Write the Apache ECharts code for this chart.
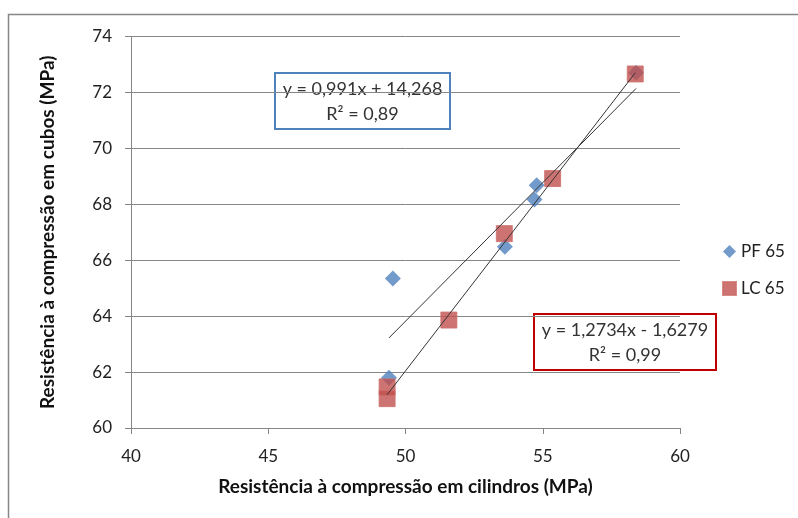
<!DOCTYPE html>
<html>
<head>
<meta charset="utf-8">
<script src="https://cdn.jsdelivr.net/npm/echarts@6/dist/echarts.min.js"></script>
<style>
    html, body { margin: 0; padding: 0; background: #fff; }
    #main { width: 798px; height: 518px; }
</style>
</head>
<body>
<div id="main"></div>
<script>
// PF 65 (x = cilindros, y = cubos)
var pfX = [49.54, 49.4, 53.62, 54.7, 54.78, 58.4];
var pfY = [65.35, 61.8, 66.48, 68.17, 68.68, 72.7];
// LC 65
var lcX = [49.33, 49.33, 51.58, 53.6, 55.36, 58.37];
var lcY = [61.47, 61.05, 63.86, 66.95, 68.92, 72.66];

var seriesNames = ['PF 65', 'LC 65'];
// linhas de tendência (valores da legenda do Excel)
var slopes = [0.991, 1.2734];
var intercepts = [14.268, -1.6279];
var r2 = [0.89, 0.99];

var xTicks = [40, 45, 50, 55, 60];
var yTicks = [60, 62, 64, 66, 68, 70, 72, 74];

var font = 'Lato, "Open Sans", sans-serif';

function pairs(xs, ys) {
    var out = [];
    for (var i = 0; i < xs.length; i++) {
        out.push([xs[i], ys[i]]);
    }
    return out;
}

// pontos extremos da reta de tendência no intervalo dos dados
function trend(xs, a, b) {
    var lo = Math.min.apply(null, xs);
    var hi = Math.max.apply(null, xs);
    return [[lo, a * lo + b], [hi, a * hi + b]];
}

function fmt(v) {
    return String(v).replace('.', ',');
}

function eqText(i) {
    var b = intercepts[i];
    var sign = b < 0 ? ' - ' : ' + ';
    return 'y = ' + fmt(slopes[i]) + 'x' + sign + fmt(Math.abs(b)) + '\nR² = ' + fmt(r2[i]);
}

var chart = echarts.init(document.getElementById('main'));

var option = {
    animation: false,
    textStyle: { fontFamily: font },
    grid: {
        left: 131,
        right: 118,
        top: 36.5,
        bottom: 90
    },
    legend: {
        orient: 'vertical',
        left: 717,
        top: 238,
        itemGap: 20,
        itemWidth: 13,
        itemHeight: 13,
        textStyle: { fontSize: 17, color: '#222', fontFamily: font },
        data: [
            { name: seriesNames[0], icon: 'diamond' },
            { name: seriesNames[1], icon: 'rect' }
        ]
    },
    xAxis: {
        type: 'value',
        min: xTicks[0],
        max: xTicks[xTicks.length - 1],
        interval: 5,
        name: 'Resistência à compressão em cilindros (MPa)',
        nameLocation: 'middle',
        nameGap: 49,
        nameTextStyle: { fontSize: 19, fontWeight: 'bold', color: '#111' },
        axisLine: { lineStyle: { color: '#868686' } },
        axisTick: { length: 6, lineStyle: { color: '#868686' } },
        axisLabel: { fontSize: 17, color: '#222', margin: 20 },
        splitLine: { show: false }
    },
    yAxis: {
        type: 'value',
        min: yTicks[0],
        max: yTicks[yTicks.length - 1],
        interval: 2,
        name: 'Resistência à compressão em cubos (MPa)',
        nameLocation: 'middle',
        nameGap: 74,
        nameTextStyle: { fontSize: 19, fontWeight: 'bold', color: '#111' },
        axisLine: { show: true, lineStyle: { color: '#868686' } },
        axisTick: { show: true, length: 6, lineStyle: { color: '#868686' } },
        axisLabel: { fontSize: 17, color: '#222', margin: 19 },
        splitLine: { lineStyle: { color: '#868686', width: 1 } }
    },
    series: [{
            name: seriesNames[0],
            type: 'scatter',
            symbol: 'diamond',
            symbolSize: 16,
            itemStyle: { color: '#4F81BD' },
            data: pairs(pfX, pfY),
            z: 2
        },
        {
            name: seriesNames[1],
            type: 'scatter',
            symbol: 'rect',
            symbolSize: 16,
            itemStyle: { color: '#C0504D', borderColor: '#CD6E6B', borderWidth: 1 },
            data: pairs(lcX, lcY),
            z: 3
        },
        {
            name: 'tend PF',
            type: 'line',
            symbol: 'none',
            silent: true,
            lineStyle: { color: '#333', width: 1 },
            data: trend(pfX, slopes[0], intercepts[0]),
            z: 4
        },
        {
            name: 'tend LC',
            type: 'line',
            symbol: 'none',
            silent: true,
            lineStyle: { color: '#333', width: 1 },
            data: trend(lcX, slopes[1], intercepts[1]),
            z: 4
        }
    ],
    graphic: [{
            // moldura do gráfico
            type: 'rect',
            shape: { x: 8.5, y: 14.5, width: 900, height: 600 },
            style: { fill: 'none', stroke: '#868686', lineWidth: 1.5 },
            silent: true
        },
        {
            type: 'group',
            left: 274,
            top: 72,
            children: [{
                type: 'rect',
                shape: { x: 0, y: 0, width: 175, height: 56 },
                style: { fill: '#fff', stroke: '#4F81BD', lineWidth: 2 }
            }, {
                type: 'text',
                x: 87.5,
                y: 29,
                style: {
                    text: eqText(0),
                    fontSize: 18,
                    fontFamily: font,
                    fill: '#333',
                    align: 'center',
                    verticalAlign: 'middle',
                    lineHeight: 25
                }
            }]
        },
        {
            type: 'group',
            left: 533,
            top: 313,
            children: [{
                type: 'rect',
                shape: { x: 0, y: 0, width: 182, height: 56 },
                style: { fill: '#fff', stroke: '#C00000', lineWidth: 2 }
            }, {
                type: 'text',
                x: 91,
                y: 29,
                style: {
                    text: eqText(1),
                    fontSize: 18,
                    fontFamily: font,
                    fill: '#333',
                    align: 'center',
                    verticalAlign: 'middle',
                    lineHeight: 25
                }
            }]
        }
    ]
};

chart.setOption(option);
</script>
</body>
</html>
